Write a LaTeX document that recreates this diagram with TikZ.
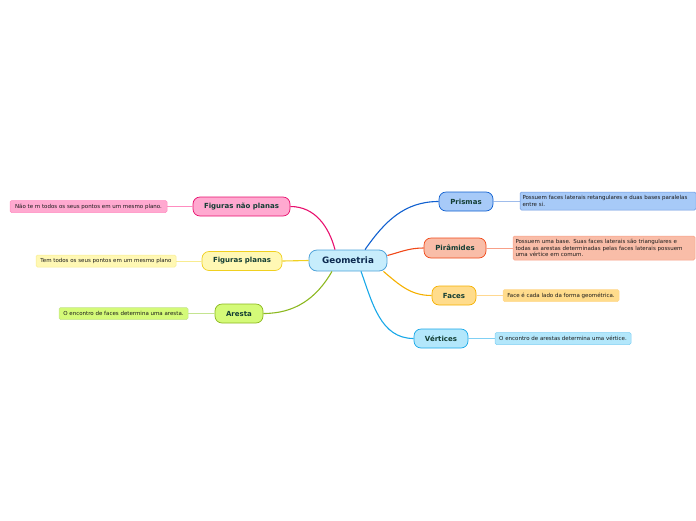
\documentclass[tikz,border=0pt]{standalone}
\usepackage{fontspec}
\setmainfont{DejaVu Sans}
\usepackage{xcolor}
\usepackage{tikz}
\usetikzlibrary{positioning}

\definecolor{geofill}{HTML}{C7EDFC}
\definecolor{geoline}{HTML}{4FA3D9}
\definecolor{geotext}{HTML}{0D2A4F}
\definecolor{branchtext}{HTML}{123D33}
\definecolor{notetext}{HTML}{1A1A1A}
\definecolor{pinkfill}{HTML}{FFA9D0}
\definecolor{pinkline}{HTML}{E8106E}
\definecolor{pinklight}{HTML}{FF8CC0}
\definecolor{yelfill}{HTML}{FFF8B4}
\definecolor{yelline}{HTML}{F0D020}
\definecolor{yellight}{HTML}{F8EC90}
\definecolor{grnfill}{HTML}{D4FA78}
\definecolor{grnline}{HTML}{8CB820}
\definecolor{grnlight}{HTML}{C4E490}
\definecolor{bluefill}{HTML}{A7CAF8}
\definecolor{blueline}{HTML}{1060D0}
\definecolor{bluelight}{HTML}{6C98E0}
\definecolor{redfill}{HTML}{F9BDA8}
\definecolor{redline}{HTML}{F04818}
\definecolor{redlight}{HTML}{F8A088}
\definecolor{orfill}{HTML}{FFDC8C}
\definecolor{orline}{HTML}{F5B000}
\definecolor{orlight}{HTML}{FFD890}
\definecolor{skyfill}{HTML}{B3E7FB}
\definecolor{skyline}{HTML}{18A8E8}
\definecolor{skylight}{HTML}{80D0F4}

\begin{document}
\begin{tikzpicture}[x=1pt, y=-1pt,
    topic/.style={draw=geoline, fill=geofill, rounded corners=8pt, line width=0.8pt, minimum width=78pt, minimum height=21pt, inner sep=0pt, font=\fontsize{8.8}{10}\selectfont\bfseries, text=geotext},
    branch/.style={rounded corners=7pt, line width=0.7pt, minimum height=19pt, inner sep=0pt, font=\fontsize{7}{8}\selectfont\bfseries, text=branchtext},
    note/.style={rounded corners=1.5pt, line width=0.5pt, inner sep=2.5pt, minimum height=12pt, align=left, font=\fontsize{5.5}{6.6}\selectfont, text=notetext},
    link/.style={line width=1.1pt},
    twig/.style={line width=0.5pt}
]
    \useasboundingbox (0,0) rectangle (696,520);

    \node (geo) [topic] at (348,260.5) {Geometria};

    \node (naoplanas) [branch, draw=pinkline, fill=pinkfill, minimum width=97pt] at (241.5,206.5) {Figuras não planas};
    \node (planas) [branch, draw=yelline, fill=yelfill, minimum width=80pt] at (242,261) {Figuras planas};
    \node (aresta) [branch, draw=grnline, fill=grnfill, minimum width=48pt] at (239,313.5) {Aresta};
    \node (prismas) [branch, draw=blueline, fill=bluefill, minimum width=54pt] at (466,201.5) {Prismas};
    \node (piramides) [branch, draw=redline, fill=redfill, minimum width=62pt, minimum height=20pt] at (455,248) {Pirâmides};
    \node (faces) [branch, draw=orline, fill=orfill, minimum width=44pt] at (454,295.5) {Faces};
    \node (vertices) [branch, draw=skyline, fill=skyfill, minimum width=54pt] at (441,338.5) {Vértices};

    \node (nota1) [note, draw=pinklight, fill=pinkfill, minimum width=157pt] at (88.5,206.5) {Não te m todos os seus pontos em um mesmo plano.};
    \node (nota2) [note, draw=yellight, fill=yelfill, minimum width=140pt] at (106,261) {Tem todos os seus pontos em um mesmo plano};
    \node (nota3) [note, draw=grnlight, fill=grnfill, minimum width=129pt] at (123.5,313.5) {O encontro de faces determina uma aresta.};
    \node (nota4) [note, draw=bluelight, fill=bluefill, text width=171pt, minimum height=18pt] at (608,201) {Possuem faces laterais retangulares e duas bases paralelas\\entre si.};
    \node (nota5) [note, draw=redlight, fill=redfill, text width=177pt, minimum height=24pt] at (604,248) {Possuem uma base. Suas faces laterais são triangulares e\\todas as arestas determinadas pelas faces laterais possuem\\uma vértice em comum.};
    \node (nota6) [note, draw=orlight, fill=orfill, minimum width=116pt] at (561,295.5) {Face é cada lado da forma geométrica.};
    \node (nota7) [note, draw=skylight, fill=skyfill, minimum width=136pt] at (563,338.5) {O encontro de arestas determina uma vértice.};

    \path [link, draw=pinkline] (geo.north) ++(-13,0) to[out=105, in=0] (naoplanas.east);
    \path [link, draw=yelline] (geo.west) -- (planas.east);
    \path [link, draw=grnline] (geo.south) ++(-16,0) to[out=-120, in=0] (aresta.east);
    \path [link, draw=blueline] (geo.north) ++(17,0) to[out=55, in=180] (prismas.west);
    \path [link, draw=redline] (geo.east) ++(0,-5) to[out=15, in=180] (piramides.west);
    \path [link, draw=orline] (geo.south east) ++(-4,0) to[out=-40, in=180] (faces.west);
    \path [link, draw=skyline] (geo.south) ++(13,0) to[out=-70, in=180] (vertices.west);

    \path [twig, draw=pinklight] (naoplanas) -- (nota1);
    \path [twig, draw=yellight] (planas) -- (nota2);
    \path [twig, draw=grnlight] (aresta) -- (nota3);
    \path [twig, draw=bluelight] (prismas) -- (nota4);
    \path [twig, draw=redlight] (piramides) -- (nota5);
    \path [twig, draw=orlight] (faces) -- (nota6);
    \path [twig, draw=skylight] (vertices) -- (nota7);
\end{tikzpicture}
\end{document}
